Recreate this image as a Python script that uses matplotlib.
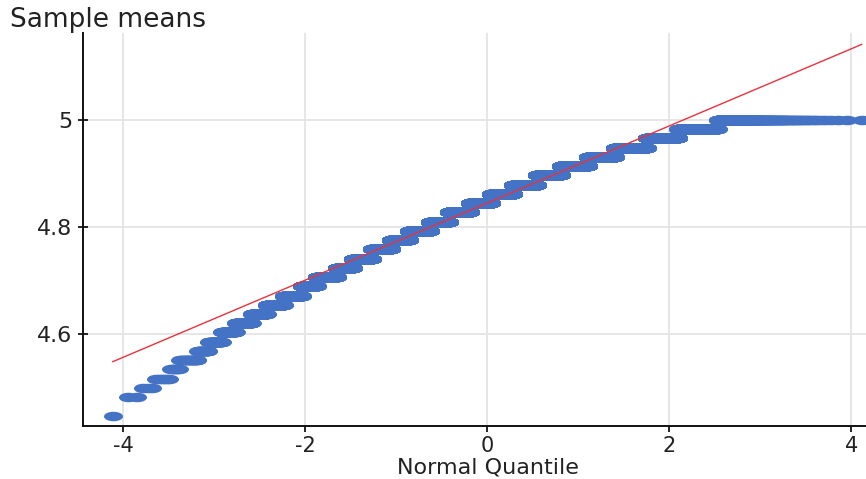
"""
Normal quantile plot of sample means (group size 58), with the fitted normal line.
Output: out.png
"""

from statistics import NormalDist

import numpy as np
import matplotlib
matplotlib.use("Agg")
import matplotlib.pyplot as plt
from matplotlib.path import Path
from matplotlib.transforms import Affine2D

# ── Data ─────────────────────────────────────────────────────────────
group_size = 58
# sample mean = numerator / group_size
level_numerators = [258, 260, 261, 262, 263, 264, 265, 266, 267, 268, 269,
                    270, 271, 272, 273, 274, 275, 276, 277, 278, 279, 280,
                    281, 282, 283, 284, 285, 286, 287, 288, 289, 290]
level_counts = [1, 2, 3, 6, 6, 19, 19, 34, 56, 100, 147,
                255, 414, 495, 950, 1054, 1652, 2160, 2538, 3638, 3595, 4573,
                4678, 4846, 4893, 4164, 3827, 2756, 2085, 1119, 626, 288]

# fitted normal line (mean, sd)
fit_mean = 4.845
fit_sd = 0.0720

x_ticks = [-4, -2, 0, 2, 4]
y_ticks = [4.6, 4.8, 5.0]
y_tick_labels = ["4.6", "4.8", "5"]

# ── Quantiles ────────────────────────────────────────────────────────
means = np.repeat(np.array(level_numerators) / group_size, level_counts)
n = means.size
nd = NormalDist()
quantiles = np.array([nd.inv_cdf(i / (n + 1)) for i in range(1, n + 1)])
line_x = np.array([quantiles.min(), quantiles.max()])
line_y = fit_mean + fit_sd * line_x

# ── Plot ─────────────────────────────────────────────────────────────
plt.rcParams["axes.unicode_minus"] = False
plt.rcParams["font.family"] = ["DejaVu Sans"]

colors = {
    "points": "#4472c4",
    "line": "#e8323e",
    "grid": "#e4e4e4",
    "text": "#222222",
}

fig = plt.figure(figsize=(8.66, 4.79), dpi=100)
fig.patch.set_facecolor("white")
# axes runs past the right edge, as in the cropped original
ax = fig.add_axes([0.0958, 0.1106, 0.9336, 0.8205])

ellipse = Path.unit_circle().transformed(Affine2D().scale(1.0, 0.5))
ax.plot(quantiles, means, linestyle="none", marker=ellipse, markersize=13.7,
        markerfacecolor=colors["points"], markeredgewidth=0, zorder=2)
ax.plot(line_x, line_y, color=colors["line"], linewidth=1.0, zorder=3)

ax.set_xlim(-4.44, 4.44)
ax.set_ylim(4.4288, 5.1624)
ax.set_xticks(x_ticks)
ax.set_yticks(y_ticks)
ax.set_yticklabels(y_tick_labels)

ax.grid(True, color=colors["grid"], linewidth=1.3)
ax.set_axisbelow(True)
for side in ("top", "right"):
    ax.spines[side].set_visible(False)
for side in ("left", "bottom"):
    ax.spines[side].set_linewidth(1.4)
    ax.spines[side].set_color("#111111")

ax.tick_params(axis="y", direction="inout", length=7, width=1.2,
               labelsize=16, labelcolor=colors["text"], pad=4)
ax.tick_params(axis="x", direction="out", length=4, width=1.2,
               labelsize=15, labelcolor=colors["text"], pad=3)

fig.text(0.012, 1 - 27 / 479, "Sample means", fontsize=19,
         color=colors["text"], va="baseline", ha="left")
fig.text(488 / 866, 6 / 479, "Normal Quantile", fontsize=16,
         color=colors["text"], va="baseline", ha="center")

fig.savefig("out.png", dpi=100, facecolor="white")
